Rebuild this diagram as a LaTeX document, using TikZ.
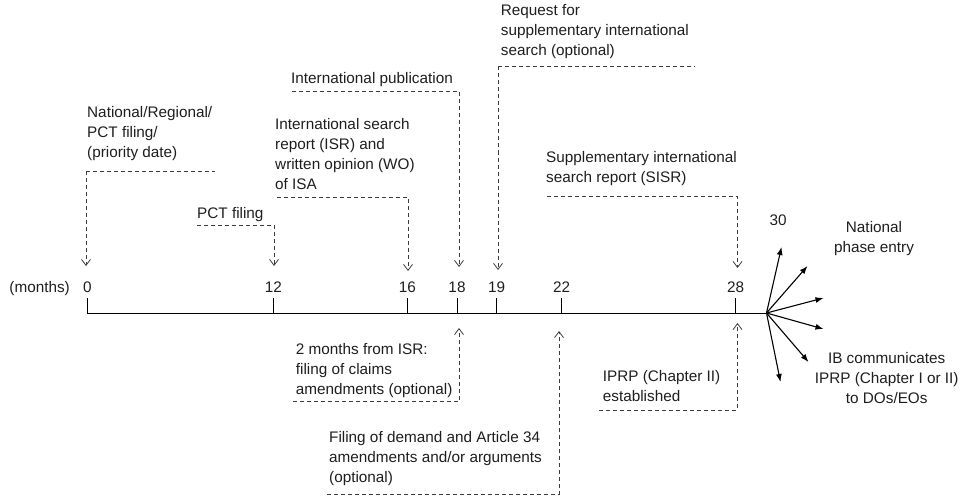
\documentclass[tikz,border=0pt]{standalone}
\usepackage{fontspec}
\setmainfont{Liberation Sans}
\usetikzlibrary{
	arrows.meta,
	positioning
}
\definecolor{InkGray}{RGB}{30,30,30}
\definecolor{DashGray}{RGB}{60,60,60}

\tikzset{
	evtext/.style={anchor=south west, inner sep=0pt, text depth=0pt, align=left,
		font=\fontsize{15.3}{20}\selectfont, text=InkGray},
	sidetext/.style={evtext, anchor=south, align=center},
	num/.style={anchor=base, inner sep=0pt, font=\fontsize{15.3}{20}\selectfont, text=InkGray},
	axisline/.style={line width=1pt, black},
	evline/.style={line width=0.8pt, DashGray, dash pattern=on 4pt off 3pt},
	evarrow/.style={evline, -{Straight Barb[length=6pt,width=9pt,line width=0.8pt]}},
	fanarrow/.style={line width=1.1pt, black, -{Latex[length=8pt,width=6pt]}}
}

\begin{document}
\begin{tikzpicture}[x=1pt, y={(0pt,-1pt)}]
	\useasboundingbox (0,0) rectangle (966,500);

	% 时间轴
	\coordinate (t0) at (87.3,313);
	\coordinate (fan) at (766.5,313);
	\draw[axisline] (t0) -- (fan);

	% 刻度与月份
	\foreach \m/\x in {0/87.3,12/273.3,16/407.3,18/457,19/496.7,22/561.7,28/735.7}{
		\coordinate (k\m) at (\x,313);
		\draw[axisline] (k\m) -- ++(0,-15);
		\node[num] (n\m) at (\x,292) {\m};
	}
	\node[num, anchor=base east] (months) at (70,292) {(months)};

	% 轴上方的事件
	\coordinate (prioS) at (86,171);
	\coordinate (prioE) at (215,171);
	\coordinate (prioT) at (86,266);
	\node[evtext] (prio) at (87,157.3) {National/Regional/\\PCT filing/\\(priority date)};
	\draw[evline] (prioS) -- (prioE);
	\draw[evarrow] (prioS) -- (prioT);

	\coordinate (pctS) at (197,225);
	\coordinate (pctT) at (274,266);
	\node[evtext] (pct) at (197,218.3) {PCT filing};
	\draw[evarrow] (pctS) -| (pctT);

	\coordinate (isrS) at (277,197);
	\coordinate (isrT) at (408,271);
	\node[evtext] (isr) at (275,190) {International search\\report (ISR) and\\written opinion (WO)\\of ISA};
	\draw[evarrow] (isrS) -| (isrT);

	\coordinate (pubS) at (292,91);
	\coordinate (pubT) at (459,267);
	\node[evtext] (pub) at (291,83.3) {International publication};
	\draw[evarrow] (pubS) -| (pubT);

	\coordinate (reqS) at (498,66.5);
	\coordinate (reqE) at (695,66.5);
	\coordinate (reqT) at (498,270);
	\node[evtext] (req) at (500.7,56) {Request for\\supplementary international\\search (optional)};
	\draw[evline] (reqS) -- (reqE);
	\draw[evarrow] (reqS) -- (reqT);

	\coordinate (sisrS) at (547,196);
	\coordinate (sisrT) at (737.5,268);
	\node[evtext] (sisr) at (546,183) {Supplementary international\\search report (SISR)};
	\draw[evarrow] (sisrS) -| (sisrT);

	% 轴下方的事件
	\coordinate (amdS) at (293,401.7);
	\coordinate (amdT) at (459,328);
	\node[evtext] (amd) at (295.7,395) {2 months from ISR:\\filing of claims\\amendments (optional)};
	\draw[evarrow] (amdS) -| (amdT);

	\coordinate (demS) at (327,494.3);
	\coordinate (demT) at (559,331);
	\node[evtext] (dem) at (329,483) {Filing of demand and Article 34\\amendments and/or arguments\\(optional)};
	\draw[evarrow] (demS) -| (demT);

	\coordinate (iprpS) at (599.3,410);
	\coordinate (iprpT) at (737.5,323);
	\node[evtext] (iprp) at (602.7,401.7) {IPRP (Chapter II)\\established};
	\draw[evarrow] (iprpS) -| (iprpT);

	% 末端的扇形箭头
	\foreach \i/\dx/\dy in {1/15/-66,2/41/-47,3/57/-15,4/57/16,5/42/49,6/14/69}{
		\coordinate (f\i) at ([shift={(\dx,\dy)}]fan);
		\draw[fanarrow] (fan) -- (f\i);
	}
	\node[num] (n30) at (778,225) {30};
	\node[sidetext] (entry) at (874,253) {National\\phase entry};
	\node[sidetext] (ib) at (886.7,403.3) {IB communicates\\IPRP (Chapter I or II)\\to DOs/EOs};
\end{tikzpicture}
\end{document}
